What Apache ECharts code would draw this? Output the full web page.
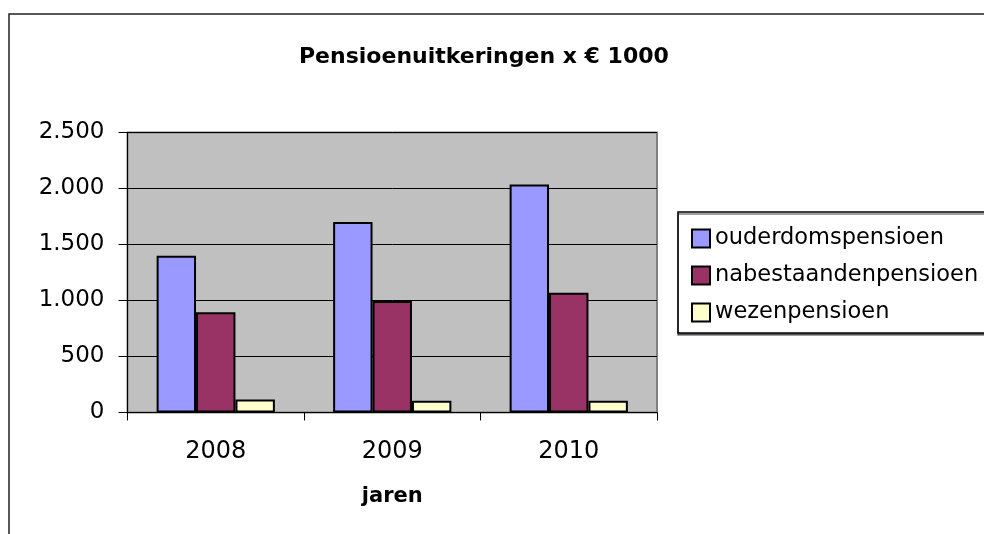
<!DOCTYPE html>
<html>
<head>
<meta charset="utf-8">
<script src="https://cdn.jsdelivr.net/npm/echarts@6/dist/echarts.min.js"></script>
<style>
  html, body { margin:0; padding:0; background:#fff; }
  #pensioen-chart { width:984px; height:534px; }
</style>
</head>
<body>
<div id="pensioen-chart"></div>
<script>
  // jaren op de x-as
  var jaren = ['2008', '2009', '2010'];
  // bedragen x € 1000
  var ouderdomspensioen = [1400, 1700, 2035];
  var nabestaandenpensioen = [895, 995, 1070];
  var wezenpensioen = [115, 105, 105];
  var yTicks = [0, 500, 1000, 1500, 2000, 2500];

  var font = 'DejaVu Sans';

  // 2500 -> "2.500"
  function dotThousands(v) {
    return String(v).replace(/\B(?=(\d{3})+(?!\d))/g, '.');
  }

  var myChart = echarts.init(document.getElementById('pensioen-chart'));

  function bar(name, data, color) {
    return {
      name: name,
      type: 'bar',
      data: data,
      barGap: '0%',
      barCategoryGap: '33%',
      itemStyle: {
        color: color,
        borderColor: '#000',
        borderWidth: 2
      },
      emphasis: { disabled: true }
    };
  }

  var option = {
    backgroundColor: '#fff',
    animation: false,
    textStyle: { fontFamily: font },
    title: {
      text: 'Pensioenuitkeringen x € 1000',
      left: 294,
      top: 41,
      textStyle: {
        fontFamily: font,
        fontSize: 22,
        fontWeight: 'bold',
        color: '#000'
      }
    },
    // rand om het hele diagram en om de legenda
    graphic: [
      {
        type: 'rect',
        shape: { x: 9, y: 14, width: 1000, height: 560 },
        style: { fill: 'none', stroke: '#222', lineWidth: 1.5 },
        silent: true
      },
      {
        type: 'rect',
        shape: { x: 678, y: 212, width: 330, height: 121 },
        style: {
          fill: '#fff', stroke: '#000', lineWidth: 1.5,
          shadowColor: 'rgba(0,0,0,0.5)', shadowOffsetY: 2, shadowBlur: 0
        },
        z: -1,
        silent: true
      }
    ],
    legend: {
      orient: 'vertical',
      left: 686,
      top: 222,
      itemWidth: 18,
      itemHeight: 18,
      itemGap: 14,
      icon: 'rect',
      itemStyle: { borderColor: '#000', borderWidth: 2 },
      textStyle: { fontFamily: font, fontSize: 22.5, color: '#000' },
      data: ['ouderdomspensioen', 'nabestaandenpensioen', 'wezenpensioen']
    },
    grid: {
      left: 127.5,
      right: 327,
      top: 132.5,
      bottom: 121.5,
      show: true,
      backgroundColor: '#c0c0c0',
      borderColor: '#808080',
      borderWidth: 2
    },
    xAxis: {
      type: 'category',
      data: jaren,
      name: 'jaren',
      nameLocation: 'middle',
      nameGap: 74,
      nameTextStyle: { fontFamily: font, fontSize: 21, fontWeight: 'bold', color: '#000' },
      axisLine: { lineStyle: { color: '#000', width: 1 } },
      axisTick: { show: true, length: 8, lineStyle: { color: '#000' } },
      axisLabel: { margin: 27, fontFamily: font, fontSize: 24, color: '#000' }
    },
    yAxis: {
      type: 'value',
      min: yTicks[0],
      max: yTicks[yTicks.length - 1],
      interval: 500,
      axisLine: { show: true, lineStyle: { color: '#000', width: 1 } },
      axisTick: { show: true, length: 9, lineStyle: { color: '#000' } },
      axisLabel: {
        margin: 23,
        fontFamily: font,
        fontSize: 23,
        color: '#000',
        formatter: dotThousands
      },
      splitLine: { show: true, lineStyle: { color: '#000', width: 1 } }
    },
    series: [
      bar('ouderdomspensioen', ouderdomspensioen, '#9999ff'),
      bar('nabestaandenpensioen', nabestaandenpensioen, '#993366'),
      bar('wezenpensioen', wezenpensioen, '#ffffcc')
    ]
  };

  myChart.setOption(option, true);
</script>
</body>
</html>
